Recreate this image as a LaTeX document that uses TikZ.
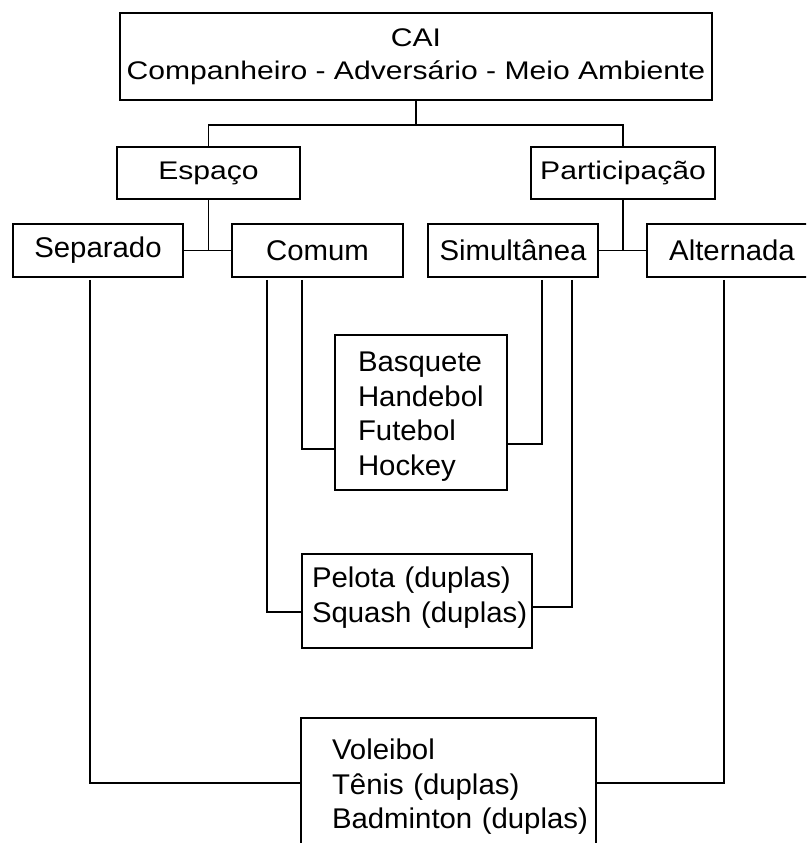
\documentclass[tikz,border=0pt]{standalone}
\usepackage{fontspec}
\setmainfont[FakeStretch=1.03]{Liberation Sans}
\newfontfamily\largafont[FakeStretch=1.18]{Liberation Sans}
\begin{document}
\begin{tikzpicture}[x=1pt, y=-1pt, line width=1.8pt,
  caixa/.style={draw, minimum height=53pt, inner sep=0pt,
    font=\fontsize{28.5}{34.5}\selectfont},
  topo/.style={caixa, font=\largafont\fontsize{25.5}{33}\selectfont},
  lista/.style={caixa, align=left, inner xsep=0pt,
    execute at begin node={\leftskip=#1\relax\hyphenpenalty=10000\relax}}]
  \useasboundingbox (0,0) rectangle (806,843);
  \clip (0,0) rectangle (806,843);
  % Nodos
  \node[topo, minimum width=592pt, minimum height=87pt, align=center] (cai) at (416,56.5) {CAI\\Companheiro - Adversário - Meio Ambiente};
  \node[topo, minimum width=183pt, minimum height=52pt] (espaco) at (208.5,173) {Espaço};
  \node[topo, minimum width=184pt, minimum height=52pt] (partic) at (623,173) {Participação};
  \node[caixa, minimum width=170pt] (separado) at (98,250.5) {Separado};
  \node[caixa, minimum width=171pt] (comum) at (317.5,250.5) {Comum};
  \node[caixa, minimum width=170pt] (simult) at (513,250.5) {Simultânea};
  \node[caixa, minimum width=170pt] (altern) at (732,250.5) {Alternada};
  \node[lista=23pt, text width=172pt, minimum height=155pt, text height=28pt] (basq) at (421,412.5) {Basquete\\Handebol\\Futebol\\Hockey};
  \node[lista=10pt, text width=230pt, minimum height=94pt, text height=14pt] (pelota) at (417,601) {Pelota (duplas)\\Squash (duplas)};
  \node[lista=31pt, text width=295pt, minimum height=130pt, text height=28pt] (volei) at (448.5,783) {Voleibol\\Tênis (duplas)\\Badminton (duplas)};

  \draw (cai.south) -- ++(0,24) -| (espaco.north);
  \draw (cai.south) -- ++(0,24) -| (partic.north);
  \draw (espaco.south) -- (espaco.south |- separado.east);
  \draw (separado.east) -- (comum.west);
  \draw (partic.south) -- (partic.south |- simult.east);
  \draw (simult.east) -- (altern.west);
  \draw ([xshift=-8pt,yshift=-2pt]separado.south) |- (volei.west);
  \draw ([xshift=-50.5pt,yshift=-2pt]comum.south) |- ([yshift=-11pt]pelota.west);
  \draw ([xshift=-15.5pt,yshift=-2pt]comum.south) |- ([yshift=-36.5pt]basq.west);
  \draw ([xshift=29pt,yshift=-2pt]simult.south) |- ([yshift=-31.5pt]basq.east);
  \draw ([xshift=59pt,yshift=-2pt]simult.south) |- ([yshift=-6pt]pelota.east);
  \draw ([xshift=-8pt,yshift=-2pt]altern.south) |- (volei.east);
\end{tikzpicture}
\end{document}
